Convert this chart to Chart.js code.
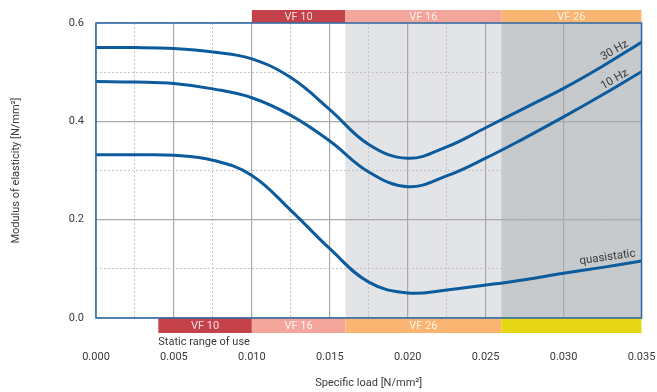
<!DOCTYPE html>
<html>
<head>
<meta charset="utf-8">
<script src="https://cdn.jsdelivr.net/npm/chart.js@4/dist/chart.umd.min.js"></script>
<style>
  html, body { margin: 0; padding: 0; background: #ffffff; }
  #wrap { width: 657px; height: 392px; position: relative; }
</style>
</head>
<body>
<div id="wrap"><canvas id="c" width="657" height="392"></canvas></div>
<script>
// Specific load [N/mm²]
const loads = [0, 0.0025, 0.005, 0.0075, 0.010, 0.0125, 0.015, 0.0175, 0.020, 0.0225, 0.025, 0.0275, 0.030, 0.0325, 0.035];

// Modulus of elasticity [N/mm²]
const modulus30Hz = [0.550, 0.550, 0.548, 0.541, 0.527, 0.489, 0.424, 0.353, 0.325, 0.348, 0.387, 0.427, 0.467, 0.512, 0.561];
const modulus10Hz = [0.481, 0.480, 0.477, 0.466, 0.448, 0.412, 0.360, 0.297, 0.267, 0.289, 0.325, 0.366, 0.409, 0.454, 0.501];
const modulusQuasistatic = [0.332, 0.332, 0.331, 0.321, 0.290, 0.219, 0.141, 0.073, 0.051, 0.057, 0.067, 0.078, 0.091, 0.103, 0.116];

const seriesNames = ['30 Hz', '10 Hz', 'quasistatic'];

// Dynamic range of use (upper band) and static range of use (lower band)
const dynamicBandLabels = ['VF 10', 'VF 16', 'VF 26'];
const dynamicBandFrom = [0.010, 0.016, 0.026];
const dynamicBandTo = [0.016, 0.026, 0.035];

const staticBandLabels = ['VF 10', 'VF 16', 'VF 26', ''];
const staticBandFrom = [0.004, 0.010, 0.016, 0.026];
const staticBandTo = [0.010, 0.016, 0.026, 0.035];

// Shaded load zones inside the plot
const zoneFrom = [0.016, 0.026];
const zoneTo = [0.026, 0.035];

const xTickLabels = ['0.000', '0.005', '0.010', '0.015', '0.020', '0.025', '0.030', '0.035'];
const yTickLabels = ['0.0', '0.2', '0.4', '0.6'];

const FONT = 'Roboto, "Liberation Sans", sans-serif';
const TEXT = '#3a3a3a';
const CURVE = '#0c5b9c';
const FRAME = '#2c6aa6';
const GRID_MAJOR = '#a9a9a9';
const GRID_MINOR = '#c4c4c4';

const dynamicColors = ['#c4414a', '#f4a69c', '#f9b571'];
const staticColors = ['#c4414a', '#f4a69c', '#f9b571', '#e6d714'];
const zoneColors = ['#e3e4e8', '#c6cacd'];

function pairs(values) {
  return loads.map((x, i) => ({ x: x, y: values[i] }));
}

function isMajor(v, step) {
  const r = v / step;
  return Math.abs(r - Math.round(r)) < 1e-6;
}

const bandsPlugin = {
  id: 'bands',
  beforeDraw(chart) {
    const ctx = chart.ctx;
    const x = chart.scales.x;
    const area = chart.chartArea;
    ctx.save();
    // shaded zones behind the grid
    zoneFrom.forEach((f, i) => {
      const a = x.getPixelForValue(f), b = x.getPixelForValue(zoneTo[i]);
      ctx.fillStyle = zoneColors[i];
      ctx.fillRect(a, area.top, b - a, area.bottom - area.top);
    });
    ctx.restore();
  },
  afterDraw(chart) {
    const ctx = chart.ctx;
    const x = chart.scales.x;
    const area = chart.chartArea;
    ctx.save();
    ctx.font = '11px ' + FONT;
    ctx.textAlign = 'center';
    ctx.textBaseline = 'middle';
    // upper band: dynamic range of use
    const topY = area.top - 13;
    dynamicBandFrom.forEach((f, i) => {
      const a = x.getPixelForValue(f), b = x.getPixelForValue(dynamicBandTo[i]);
      ctx.fillStyle = dynamicColors[i];
      ctx.fillRect(a, topY, b - a, 13);
      ctx.fillStyle = 'rgba(255,255,255,0.82)';
      ctx.fillText(dynamicBandLabels[i], (a + b) / 2, topY + 7);
    });
    // lower band: static range of use
    const botY = area.bottom;
    staticBandFrom.forEach((f, i) => {
      const a = x.getPixelForValue(f), b = x.getPixelForValue(staticBandTo[i]);
      ctx.fillStyle = staticColors[i];
      ctx.fillRect(a, botY, b - a, 15);
      if (staticBandLabels[i]) {
        ctx.fillStyle = 'rgba(255,255,255,0.85)';
        ctx.fillText(staticBandLabels[i], (a + b) / 2, botY + 8);
      }
    });
    ctx.fillStyle = TEXT;
    ctx.textAlign = 'left';
    ctx.font = '11px ' + FONT;
    ctx.fillText('Static range of use', x.getPixelForValue(staticBandFrom[0]), botY + 24);

    // plot frame
    ctx.strokeStyle = FRAME;
    ctx.lineWidth = 1.5;
    ctx.strokeRect(area.left, area.top, area.right - area.left, area.bottom - area.top);

    // curve labels, placed at the right end of each curve
    const y = chart.scales.y;
    const labelSpec = [
      { s: 0, at: 0.0335, dy: -7, ang: -30 },
      { s: 1, at: 0.0335, dy: -7, ang: -30 },
      { s: 2, at: 0.0329, dy: -9, ang: -8 }
    ];
    ctx.fillStyle = TEXT;
    ctx.font = '11.5px ' + FONT;
    ctx.textAlign = 'center';
    ctx.textBaseline = 'middle';
    const all = [modulus30Hz, modulus10Hz, modulusQuasistatic];
    labelSpec.forEach(L => {
      const vals = all[L.s];
      // value at label position from neighbouring points
      let k = loads.findIndex(v => v >= L.at);
      const t = (L.at - loads[k - 1]) / (loads[k] - loads[k - 1]);
      const v = vals[k - 1] + t * (vals[k] - vals[k - 1]);
      const px = x.getPixelForValue(L.at), py = y.getPixelForValue(v);
      ctx.save();
      ctx.translate(px, py);
      ctx.rotate(L.ang * Math.PI / 180);
      ctx.fillText(seriesNames[L.s], 0, L.dy);
      ctx.restore();
    });
    ctx.restore();
  }
};

const curveStyle = {
  borderColor: CURVE,
  borderWidth: 3,
  pointRadius: 0,
  fill: false,
  tension: 0.4
};

new Chart(document.getElementById('c'), {
  type: 'line',
  data: {
    datasets: [
      Object.assign({ label: seriesNames[0], data: pairs(modulus30Hz) }, curveStyle),
      Object.assign({ label: seriesNames[1], data: pairs(modulus10Hz) }, curveStyle),
      Object.assign({ label: seriesNames[2], data: pairs(modulusQuasistatic) }, curveStyle)
    ]
  },
  options: {
    responsive: false,
    animation: false,
    events: [],
    layout: { padding: { left: 0, right: 15.5, top: 23, bottom: 0 } },
    plugins: { legend: { display: false }, tooltip: { enabled: false } },
    scales: {
      x: {
        type: 'linear',
        position: 'bottom',
        min: 0, max: 0.035,
        afterFit(s) { s.height = 74; s.paddingLeft = 0; s.paddingRight = 0; },
        afterBuildTicks(s) { s.ticks = xTickLabels.map(t => ({ value: parseFloat(t) })); },
        ticks: {
          padding: 33,
          maxRotation: 0,
          autoSkip: false,
          color: TEXT,
          font: { family: FONT, size: 11 },
          callback(v, i) { return xTickLabels[i]; }
        },
        grid: { color: GRID_MAJOR, lineWidth: 1.2, drawTicks: false },
        border: { display: false },
        title: {
          display: true,
          text: 'Specific load [N/mm²]',
          color: TEXT,
          font: { family: FONT, size: 11 },
          padding: { top: 0, bottom: 2 }
        }
      },
      xMinor: {
        type: 'linear',
        position: 'top',
        min: 0, max: 0.035,
        afterFit(s) { s.height = 0; s.paddingLeft = 0; s.paddingRight = 0; },
        ticks: { display: false, stepSize: 0.0025 },
        grid: {
          drawTicks: false,
          lineWidth: 1,
          color: c => (c.tick && isMajor(c.tick.value, 0.005)) ? 'rgba(0,0,0,0)' : GRID_MINOR
        },
        border: { display: false, dash: [2, 2] }
      },
      y: {
        type: 'linear',
        min: 0, max: 0.6,
        afterFit(s) { s.width = 96; s.paddingTop = 0; s.paddingBottom = 0; },
        afterBuildTicks(s) { s.ticks = yTickLabels.map(t => ({ value: parseFloat(t) })); },
        ticks: {
          padding: 12,
          color: TEXT,
          font: { family: FONT, size: 11 },
          callback(v, i) { return yTickLabels[i]; }
        },
        grid: { color: GRID_MAJOR, lineWidth: 1.2, drawTicks: false },
        border: { display: false },
        title: {
          display: true,
          text: 'Modulus of elasticity [N/mm²]',
          color: TEXT,
          font: { family: FONT, size: 11 },
          padding: { top: 10, bottom: 0 }
        }
      },
      yMinor: {
        type: 'linear',
        position: 'right',
        min: 0, max: 0.6,
        afterFit(s) { s.width = 0; s.paddingTop = 0; s.paddingBottom = 0; },
        ticks: { display: false, stepSize: 0.1 },
        grid: {
          drawTicks: false,
          lineWidth: 1,
          color: c => (c.tick && isMajor(c.tick.value, 0.2)) ? 'rgba(0,0,0,0)' : GRID_MINOR
        },
        border: { display: false, dash: [2, 2] }
      }
    }
  },
  plugins: [bandsPlugin]
});
</script>
</body>
</html>
